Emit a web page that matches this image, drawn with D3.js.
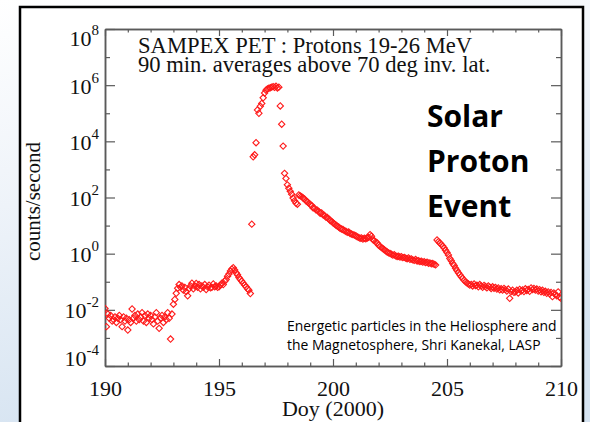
<!DOCTYPE html>
<html><head><meta charset="utf-8">
<script src="https://cdn.jsdelivr.net/npm/d3@7"></script>
<style>
html,body{margin:0;padding:0;background:#fff;}
svg{display:block;}
</style></head><body>
<svg id="chart" width="590" height="422"></svg>
<script>
// ---------- data ----------
const titleLines = ["SAMPEX PET : Protons 19-26 MeV", "90 min. averages above 70 deg inv. lat."];
const calloutLines = ["Solar", "Proton", "Event"];
const creditLines = ["Energetic particles in the Heliosphere and", "the Magnetosphere, Shri Kanekal, LASP"];
const xLabel = "Doy (2000)";
const yLabel = "counts/second";
const xMajorTicks = [190, 195, 200, 205, 210];
const xMinorTicks = [191, 192, 193, 194, 196, 197, 198, 199, 201, 202, 203, 204, 206, 207, 208, 209];
const yMajorExponents = [-4, -2, 0, 2, 4, 6, 8];
const yMinorExponents = [-3, -1, 1, 3, 5, 7];
const firstDay = 190;          // day of year of first sample
const cadenceDays = 1 / 16;    // 90-minute averages
// log10(counts/second), one row per day (16 samples each)
const log10Rate = [
  -1.95, -2.60, -2.15, -2.30, -2.20, -2.40, -2.35, -2.25, -2.45, -2.30, -2.20, -2.35, -2.60, -2.25, -2.40, -2.30, // 190
  -2.72, -2.35, -2.45, -1.97, -2.30, -2.20, -2.40, -2.15, -2.35, -2.25, -2.10, -2.40, -2.20, -2.45, -2.15, -2.30, // 191
  -2.20, -2.35, -2.50, -2.25, -2.10, -2.40, -2.66, -2.30, -2.20, -2.45, -2.25, -2.35, -2.10, -2.30, -3.04, -2.15, // 192
  -1.80, -1.63, -1.41, -1.23, -1.10, -1.20, -1.15, -1.30, -1.20, -1.35, -1.50, -1.25, -1.15, -1.05, -1.25, -1.15, // 193
  -1.06, -1.20, -1.10, -1.25, -1.15, -1.20, -1.10, -1.28, -1.18, -1.12, -1.22, -1.20, -1.08, -1.18, -1.15, -1.20, // 194
  -1.18, -1.12, -1.05, -1.10, -0.98, -0.92, -0.80, -0.72, -0.62, -0.55, -0.50, -0.58, -0.68, -0.75, -0.85, -0.92, // 195
  -0.98, -1.05, -1.12, -1.18, -1.25, -1.30, -1.42,  1.05,  3.45,  3.52,  3.95,  5.12,  5.00,  5.25,  5.35,  5.55, // 196
   5.72,  5.82,  5.87,  5.89,  5.91,  5.93,  5.95,  5.92,  5.96,  5.90,  5.93,  5.26,  4.61,  3.83,  2.86,  2.68, // 197
   2.45,  2.33,  2.22,  2.12,  1.98,  1.88,  1.80,  1.76,  2.09,  2.06,  2.03,  1.98,  1.95,  1.88,  1.85,  1.80, // 198
   1.75,  1.72,  1.63,  1.62,  1.56,  1.55,  1.50,  1.44,  1.45,  1.38,  1.36,  1.30,  1.29,  1.24,  1.18,  1.15, // 199
   1.10,  1.06,  1.02,  0.98,  0.95,  0.90,  0.88,  0.86,  0.82,  0.80,  0.76,  0.77,  0.72,  0.70,  0.68,  0.66, // 200
   0.64,  0.60,  0.58,  0.55,  0.56,  0.52,  0.55,  0.53,  0.56,  0.58,  0.68,  0.62,  0.50,  0.46,  0.42,  0.38, // 201
   0.30,  0.26,  0.22,  0.18,  0.14,  0.10,  0.06,  0.03,  0.01, -0.02, -0.05, -0.04, -0.08, -0.10, -0.09, -0.12, // 202
  -0.11, -0.14, -0.13, -0.16, -0.18, -0.15, -0.20, -0.19, -0.22, -0.24, -0.21, -0.26, -0.25, -0.28, -0.27, -0.30, // 203
  -0.29, -0.32, -0.30, -0.34, -0.33, -0.36, -0.35, -0.38, -0.40,  0.49,  0.43,  0.38,  0.33,  0.27,  0.20,  0.12, // 204
   0.04, -0.05, -0.17, -0.25, -0.35, -0.42, -0.52, -0.60, -0.68, -0.75, -0.82, -0.88, -0.95, -1.00, -1.04, -1.08, // 205
  -1.12, -1.10, -1.15, -1.08, -1.14, -1.12, -1.18, -1.10, -1.15, -1.20, -1.13, -1.17, -1.22, -1.15, -1.19, -1.24, // 206
  -1.18, -1.23, -1.20, -1.26, -1.22, -1.29, -1.25, -1.30, -1.24, -1.28, -1.33, -1.26, -1.59, -1.35, -1.30, -1.38, // 207
  -1.36, -1.30, -1.40, -1.27, -1.33, -1.29, -1.35, -1.25, -1.31, -1.27, -1.34, -1.22, -1.28, -1.24, -1.30, -1.26, // 208
  -1.33, -1.28, -1.36, -1.30, -1.38, -1.34, -1.41, -1.36, -1.43, -1.38, -1.53, -1.40, -1.45, -1.50, -1.36, -1.55, // 209
  -1.59                                                                                                              // 210
];

// ---------- layout ----------
const W = 590, H = 422;
const plot = {left: 105, right: 561, top: 29, bottom: 366};
const serif = "'Liberation Serif', 'Times New Roman', serif";
const sans = "'Open Sans', 'Noto Sans', sans-serif";
const axisColor = "#5a5a5a";
const red = "#ff1a1a";

const svg = d3.select("#chart");
const defs = svg.append("defs");
const grad = defs.append("linearGradient").attr("id", "bg").attr("x1", 0).attr("y1", 0).attr("x2", 0.3).attr("y2", 1);
grad.append("stop").attr("offset", "0%").attr("stop-color", "#ffffff");
grad.append("stop").attr("offset", "45%").attr("stop-color", "#eef3f9");
grad.append("stop").attr("offset", "100%").attr("stop-color", "#d5e3f1");
defs.append("clipPath").attr("id", "plotclip").append("rect")
  .attr("x", plot.left).attr("y", plot.top)
  .attr("width", plot.right - plot.left).attr("height", plot.bottom - plot.top);

svg.append("rect").attr("width", W).attr("height", H).attr("fill", "url(#bg)");
svg.append("rect").attr("x", 20).attr("y", 7).attr("width", 563).attr("height", 440)
  .attr("fill", "#fff").attr("stroke", "#000").attr("stroke-width", 2.5);

const x = d3.scaleLinear().domain([190, 210]).range([plot.left, plot.right]);
const y = d3.scaleLog().domain([1e-4, 1e8]).range([plot.bottom, plot.top]);

function styleAxis(g) {
  g.selectAll("path.domain").attr("stroke", axisColor).attr("stroke-width", 1.5);
  g.selectAll(".tick line").attr("stroke", axisColor).attr("stroke-width", 1.2);
}

// bottom axis (major with labels, minor)
const gxB = svg.append("g").attr("transform", `translate(0,${plot.bottom})`)
  .call(d3.axisBottom(x).tickValues(xMajorTicks).tickSizeInner(-7).tickSizeOuter(0).tickPadding(14).tickFormat(d3.format("d")));
gxB.selectAll(".tick text").attr("font-family", serif).attr("font-size", 22).attr("fill", "#111");
styleAxis(gxB);
styleAxis(svg.append("g").attr("transform", `translate(0,${plot.bottom})`)
  .call(d3.axisBottom(x).tickValues(xMinorTicks).tickSizeInner(-3.5).tickSizeOuter(0).tickFormat("")));
// top axis
styleAxis(svg.append("g").attr("transform", `translate(0,${plot.top})`)
  .call(d3.axisTop(x).tickValues(xMajorTicks).tickSizeInner(-7).tickSizeOuter(0).tickFormat("")));
styleAxis(svg.append("g").attr("transform", `translate(0,${plot.top})`)
  .call(d3.axisTop(x).tickValues(xMinorTicks).tickSizeInner(-3.5).tickSizeOuter(0).tickFormat("")));

// left axis
const gyL = svg.append("g").attr("transform", `translate(${plot.left},0)`)
  .call(d3.axisLeft(y).tickValues(yMajorExponents.map(e => Math.pow(10, e))).tickSizeInner(-10).tickSizeOuter(0).tickFormat(() => ""));
styleAxis(gyL);
gyL.selectAll(".tick").each(function(d) {
  const e = Math.round(Math.log10(d));
  const ty = y(d);
  const base = Math.min(Math.max(ty + 8, plot.top + 16), plot.bottom - 1) - ty;
  const t = d3.select(this).append("text")
    .attr("x", -6).attr("y", base).attr("text-anchor", "end")
    .attr("font-family", serif).attr("font-size", 22).attr("fill", "#111");
  t.append("tspan").text("10");
  t.append("tspan").attr("dy", -11).attr("font-size", 15).text(String(e));
});
styleAxis(svg.append("g").attr("transform", `translate(${plot.left},0)`)
  .call(d3.axisLeft(y).tickValues(yMinorExponents.map(e => Math.pow(10, e))).tickSizeInner(-5).tickSizeOuter(0).tickFormat("")));
// right axis
styleAxis(svg.append("g").attr("transform", `translate(${plot.right},0)`)
  .call(d3.axisRight(y).tickValues(yMajorExponents.map(e => Math.pow(10, e))).tickSizeInner(-10).tickSizeOuter(0).tickFormat("")));
styleAxis(svg.append("g").attr("transform", `translate(${plot.right},0)`)
  .call(d3.axisRight(y).tickValues(yMinorExponents.map(e => Math.pow(10, e))).tickSizeInner(-5).tickSizeOuter(0).tickFormat("")));

// axis titles
svg.append("text").attr("x", (plot.left + plot.right) / 2).attr("y", 416)
  .attr("text-anchor", "middle").attr("font-family", serif).attr("font-size", 22).attr("fill", "#111").text(xLabel);
svg.append("text").attr("transform", `translate(40,${(plot.top + plot.bottom) / 2 + 4}) rotate(-90)`)
  .attr("text-anchor", "middle").attr("font-family", serif).attr("font-size", 21).attr("fill", "#111").text(yLabel);

// data markers
const pts = log10Rate.map((v, i) => ({day: firstDay + i * cadenceDays, rate: Math.pow(10, v)}));
const sym = d3.symbol().type(d3.symbolSquare).size(20);
svg.append("g").attr("clip-path", "url(#plotclip)")
  .selectAll("path").data(pts).join("path")
  .attr("d", sym)
  .attr("transform", d => `translate(${x(d.day)},${y(d.rate)}) rotate(45)`)
  .attr("fill", "none").attr("stroke", red).attr("stroke-width", 1.1);

// title inside plot
svg.append("g").selectAll("text").data(titleLines).join("text")
  .attr("x", 138).attr("y", (d, i) => 53 + i * 19)
  .attr("font-family", serif).attr("font-size", 22.6).attr("fill", "#111").text(d => d);

// callout
svg.append("g").selectAll("text").data(calloutLines).join("text")
  .attr("x", 427).attr("y", (d, i) => 127 + i * 45)
  .attr("font-family", sans).attr("font-weight", 700).attr("font-size", 30).attr("fill", "#000").text(d => d);

// credit
svg.append("g").selectAll("text").data(creditLines).join("text")
  .attr("x", 287).attr("y", (d, i) => 331 + i * 19)
  .attr("font-family", sans).attr("font-size", 13.9).attr("fill", "#000").text(d => d);
</script>
</body></html>
